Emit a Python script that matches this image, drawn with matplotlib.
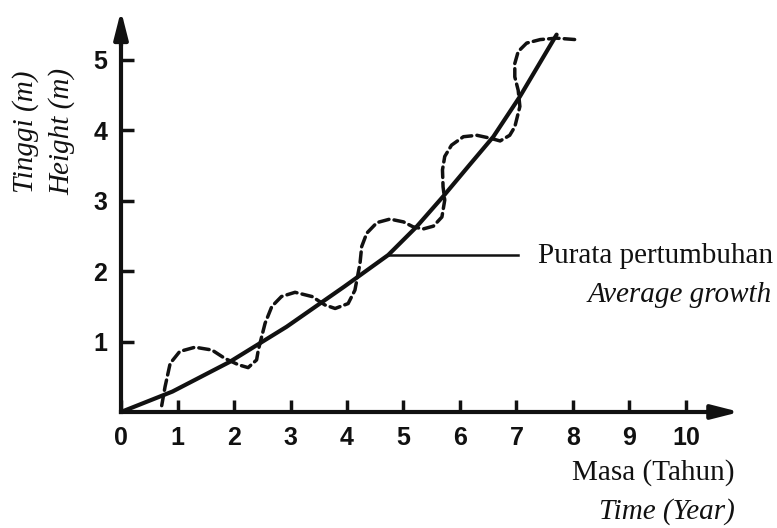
import matplotlib
matplotlib.use("Agg")
import matplotlib.pyplot as plt

# tick values
x_ticks = [0, 1, 2, 3, 4, 5, 6, 7, 8, 9, 10]
y_ticks = [1, 2, 3, 4, 5]

# purata pertumbuhan (garis licin)
avg_t = [0.0, 0.91, 1.92, 2.93, 3.95, 4.73, 5.23, 5.70, 6.18, 6.59, 7.06, 7.71]
avg_h = [0.0, 0.29, 0.71, 1.21, 1.78, 2.23, 2.63, 3.06, 3.52, 3.91, 4.48, 5.36]

# pertumbuhan sebenar (garis putus-putus)
real_t = [0.72, 0.78, 0.87, 1.04, 1.31, 1.61, 1.84, 2.08, 2.25, 2.40, 2.43,
          2.55, 2.67, 2.84, 3.08, 3.38, 3.61, 3.79, 4.02, 4.14, 4.23, 4.26,
          4.35, 4.53, 4.76, 5.00, 5.17, 5.35, 5.53, 5.68, 5.73, 5.70, 5.69,
          5.73, 5.85, 6.06, 6.30, 6.53, 6.71, 6.88, 6.97, 7.06, 7.03, 6.97,
          6.97, 7.03, 7.18, 7.42, 7.71, 8.04]
real_h = [0.09, 0.36, 0.69, 0.86, 0.92, 0.88, 0.76, 0.67, 0.63, 0.74, 0.88,
          1.26, 1.50, 1.64, 1.70, 1.64, 1.52, 1.47, 1.54, 1.73, 2.11, 2.35,
          2.54, 2.69, 2.74, 2.70, 2.63, 2.60, 2.64, 2.77, 3.01, 3.20, 3.44,
          3.63, 3.79, 3.91, 3.93, 3.89, 3.85, 3.93, 4.05, 4.34, 4.57, 4.76,
          4.95, 5.12, 5.24, 5.29, 5.31, 5.29]

# garis penunjuk label
pointer_t = [4.73, 7.03]
pointer_h = [2.23, 2.23]

ink = "#111111"
serif = ["Liberation Serif", "DejaVu Serif"]
narrow = ["Liberation Sans Narrow", "Liberation Sans", "DejaVu Sans"]

W, H = 777, 528
fig = plt.figure(figsize=(W / 100, H / 100), dpi=100)
ax = fig.add_axes([0, 0, 1, 1])
ax.set_xlim(-2.142, 11.611)
ax.set_ylim(-1.648, 5.852)

# paksi
for side in ["top", "right"]:
    ax.spines[side].set_visible(False)
ax.spines["left"].set_position(("data", 0))
ax.spines["bottom"].set_position(("data", 0))
ax.spines["left"].set_bounds(0, 5.45)
ax.spines["bottom"].set_bounds(0, 10.6)
for side in ["left", "bottom"]:
    ax.spines[side].set_linewidth(3)
    ax.spines[side].set_color(ink)
    ax.spines[side].set_capstyle("projecting")

ax.annotate("", xy=(0, 5.70), xytext=(0, 5.2),
            arrowprops=dict(arrowstyle="-|>,head_length=1.1,head_width=0.28",
                            mutation_scale=15, lw=3, color=ink,
                            shrinkA=0, shrinkB=0))
ax.annotate("", xy=(10.95, 0), xytext=(10.4, 0),
            arrowprops=dict(arrowstyle="-|>,head_length=1.1,head_width=0.28",
                            mutation_scale=15, lw=3, color=ink,
                            shrinkA=0, shrinkB=0))

ax.set_xticks(x_ticks, labels=[str(v) for v in x_ticks],
              fontsize=18, fontweight="bold", family=narrow, color=ink)
ax.set_yticks(y_ticks, labels=[str(v) for v in y_ticks],
              fontsize=18, fontweight="bold", family=narrow, color=ink)
ax.tick_params(direction="in", length=9, width=2.5, color=ink)
ax.tick_params(axis="x", pad=10)
ax.tick_params(axis="y", pad=10)

# lengkung
ax.plot(avg_t, avg_h, color=ink, lw=3, solid_capstyle="round",
        solid_joinstyle="round")
ax.plot(real_t, real_h, color=ink, lw=2.5, linestyle=(0, (3.0, 1.5)),
        dash_capstyle="round")
ax.plot(pointer_t, pointer_h, color=ink, lw=1.8)

# teks
def px(x, y):
    return x / W, 1 - y / H

fig.text(*px(538, 263), "Purata pertumbuhan", fontsize=21, family=serif,
         color=ink, va="baseline", ha="left")
fig.text(*px(772, 302), "Average growth", fontsize=21, family=serif,
         style="italic", color=ink, va="baseline", ha="right")
fig.text(*px(735, 480), "Masa (Tahun)", fontsize=21, family=serif,
         color=ink, va="baseline", ha="right")
fig.text(*px(735, 519), "Time (Year)", fontsize=21, family=serif,
         style="italic", color=ink, va="baseline", ha="right")
fig.text(*px(26, 132), "Tinggi (m)", fontsize=21, family=serif,
         style="italic", color=ink, rotation=90, va="center", ha="center")
fig.text(*px(62, 131), "Height (m)", fontsize=21, family=serif,
         style="italic", color=ink, rotation=90, va="center", ha="center")

fig.savefig("out.png", dpi=100, facecolor="white")
